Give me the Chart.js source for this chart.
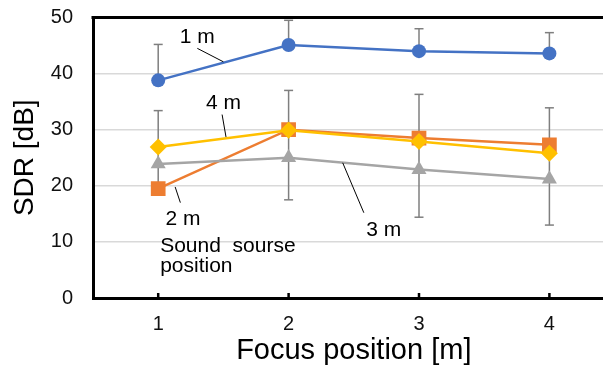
<!DOCTYPE html>
<html>
<head>
<meta charset="utf-8">
<script src="https://cdn.jsdelivr.net/npm/chart.js@4.4.1/dist/chart.umd.min.js"></script>
<style>
html, body { margin: 0; padding: 0; overflow: hidden; background: #fff; }
</style>
</head>
<body>
<canvas id="sdr-chart" width="625" height="368"></canvas>
<script>
// focus positions on the x axis
const focusPositions = ["1", "2", "3", "4"];

// SDR per sound source position [dB]
const sdr1m = [38.8, 45.1, 44.0, 43.6];
const sdr2m = [19.5, 30.0, 28.5, 27.3];
const sdr3m = [23.9, 25.0, 22.9, 21.2];
const sdr4m = [26.9, 29.9, 27.9, 25.8];

// error bars
const err1mTop = [45.2, 49.5, 48.0, 47.3];
const errRestTop = [33.4, 37.0, 36.3, 33.9];
const errRestBottom = [19.5, 17.5, 14.4, 13.0];

const font = '"Liberation Sans", Arial, sans-serif';

// callout labels, placed in data space (x = category index, y = dB)
const notes = [
    { text: "1 m", at: [0.30, 46.4], line: [[0.30, 44.5], [0.50, 42.1]] },
    { text: "4 m", at: [0.50, 34.8], line: [[0.49, 32.7], [0.52, 28.7]] },
    { text: "2 m", at: [0.19, 14.0], line: [[0.13, 19.8], [0.17, 17.0]] },
    { text: "3 m", at: [1.73, 12.1], line: [[1.415, 24.1], [1.577, 15.2]] },
    { text: "Sound  sourse", at: [0.015, 9.2], align: 'left' },
    { text: "position", at: [0.015, 5.7], align: 'left' }
];

const extras = {
    id: 'extras',
    beforeDatasetsDraw(chart) {
        const { ctx, scales: { x, y } } = chart;
        ctx.save();
        ctx.strokeStyle = '#7f7f7f';
        ctx.lineWidth = 1.5;
        const cap = (px, py) => {
            ctx.beginPath();
            ctx.moveTo(px - 4.5, py);
            ctx.lineTo(px + 4.5, py);
            ctx.stroke();
        };
        focusPositions.forEach((_, i) => {
            const px = x.getPixelForValue(i);
            // 1 m: plus only
            const b = y.getPixelForValue(sdr1m[i]);
            const t = y.getPixelForValue(err1mTop[i]);
            ctx.beginPath(); ctx.moveTo(px, b); ctx.lineTo(px, t); ctx.stroke();
            cap(px, t);
            // others
            const lo = y.getPixelForValue(errRestBottom[i]);
            const hi = y.getPixelForValue(errRestTop[i]);
            ctx.beginPath(); ctx.moveTo(px, lo); ctx.lineTo(px, hi); ctx.stroke();
            cap(px, lo);
            cap(px, hi);
        });
        ctx.restore();
    },
    afterDraw(chart) {
        const { ctx, chartArea, scales: { x, y } } = chart;
        ctx.save();
        // top frame line
        ctx.strokeStyle = '#000';
        ctx.lineWidth = 3;
        ctx.beginPath();
        ctx.moveTo(chartArea.left - 1.5, chartArea.top);
        ctx.lineTo(chartArea.right, chartArea.top);
        ctx.stroke();
        // small inside tick marks
        ctx.lineWidth = 2.5;
        focusPositions.forEach((_, i) => {
            const px = x.getPixelForValue(i);
            ctx.beginPath();
            ctx.moveTo(px, chartArea.bottom);
            ctx.lineTo(px, chartArea.bottom - 5);
            ctx.stroke();
        });
        // callouts
        ctx.lineWidth = 1;
        ctx.fillStyle = '#000';
        ctx.font = '21px ' + font;
        ctx.textBaseline = 'middle';
        notes.forEach(n => {
            if (n.line) {
                ctx.beginPath();
                ctx.moveTo(x.getPixelForValue(n.line[0][0]), y.getPixelForValue(n.line[0][1]));
                ctx.lineTo(x.getPixelForValue(n.line[1][0]), y.getPixelForValue(n.line[1][1]));
                ctx.stroke();
            }
            ctx.textAlign = n.align || 'center';
            ctx.fillText(n.text, x.getPixelForValue(n.at[0]), y.getPixelForValue(n.at[1]));
        });
        ctx.restore();
    }
};

const series = (label, data, color, style, radius, order) => ({
    label: label,
    data: data,
    borderColor: color,
    backgroundColor: color,
    borderWidth: 2.5,
    pointStyle: style,
    pointRadius: radius,
    pointHoverRadius: radius,
    pointBorderWidth: 0,
    tension: 0,
    order: order
});

new Chart(document.getElementById('sdr-chart'), {
    type: 'line',
    data: {
        labels: focusPositions,
        datasets: [
            series('1 m', sdr1m, '#4472C4', 'circle', 7, 3),
            series('2 m', sdr2m, '#ED7D31', 'rect', 10.4, 2),
            series('3 m', sdr3m, '#A5A5A5', 'triangle', 8.7, 1),
            series('4 m', sdr4m, '#FFC000', 'rectRot', 8.5, 0)
        ]
    },
    options: {
        responsive: false,
        animation: false,
        layout: { padding: { top: 0, right: 7, bottom: 0, left: 0 } },
        plugins: {
            legend: { display: false },
            tooltip: { enabled: false }
        },
        scales: {
            x: {
                offset: true,
                grid: { display: false, drawTicks: false },
                border: { display: true, color: '#000', width: 3 },
                ticks: { color: '#111', padding: 14, font: { family: font, size: 20 } },
                title: {
                    display: true,
                    text: 'Focus position [m]',
                    color: '#000',
                    padding: 0,
                    font: { family: font, size: 29 }
                },
                afterFit(scale) { scale.height = 70; }
            },
            y: {
                min: 0,
                max: 50,
                grid: { color: '#d9d9d9', lineWidth: 1.5, drawTicks: false },
                border: { display: true, color: '#000', width: 3 },
                ticks: { stepSize: 10, color: '#111', padding: 20, font: { family: font, size: 20 } },
                title: {
                    display: true,
                    text: 'SDR [dB]',
                    color: '#000',
                    padding: { top: 8, bottom: 0 },
                    font: { family: font, size: 28 }
                },
                afterFit(scale) {
                    scale.width = 93;
                    scale.paddingTop = 17.5;
                    scale.paddingBottom = 0;
                }
            }
        }
    },
    plugins: [extras]
});
</script>
</body>
</html>
